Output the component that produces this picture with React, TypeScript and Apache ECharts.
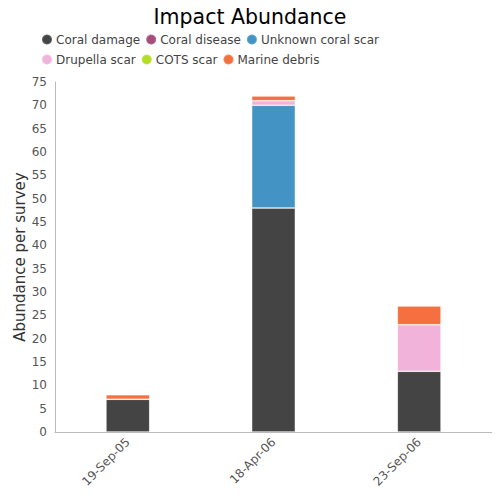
import React, { useEffect, useRef } from "react";
import * as echarts from "echarts";

const categories = ["19-Sep-05", "18-Apr-06", "23-Sep-06"];
const seriesNames = ["Coral damage", "Coral disease", "Unknown coral scar", "Drupella scar", "COTS scar", "Marine debris"];
const coralDamage = [7, 48, 13];
const coralDisease = [0, 0, 0];
const unknownScar = [0, 22, 0];
const drupellaScar = [0, 1, 10];
const cotsScar = [0, 0, 0];
const marineDebris = [1, 1, 4];
const colors = ["#444444", "#a64d79", "#4394c4", "#f1b3d9", "#b5dd26", "#f57040"];

const FONT = "DejaVu Sans";

export default function App() {
  const ref = useRef<HTMLDivElement>(null);
  useEffect(() => {
    const chart = echarts.init(ref.current!, null, { renderer: "svg" });
    const values = [coralDamage, coralDisease, unknownScar, drupellaScar, cotsScar, marineDebris];
    chart.setOption({
      animation: false,
      textStyle: { fontFamily: FONT },
      title: {
        text: "Impact Abundance",
        left: "center",
        top: 1,
        textStyle: { fontFamily: FONT, fontSize: 20.5, fontWeight: "normal", color: "#000" },
      },
      legend: {
        left: 36,
        top: 27,
        width: 365,
        icon: "circle",
        itemWidth: 10,
        itemHeight: 10,
        itemGap: 5,
        textStyle: { fontFamily: FONT, fontSize: 12, color: "#444", padding: [0, 0, 0, -1], lineHeight: 15 },
        data: seriesNames,
      },
      grid: { left: 55, right: 8, top: 82, bottom: 68, containLabel: false },
      xAxis: {
        type: "category",
        data: categories,
        axisLine: { lineStyle: { color: "#bbb" } },
        axisTick: { show: false },
        axisLabel: { rotate: 45, color: "#555", fontSize: 12, fontFamily: FONT, margin: 8 },
      },
      yAxis: {
        type: "value",
        min: 0,
        max: 75,
        interval: 5,
        name: "Abundance per survey",
        nameLocation: "middle",
        nameGap: 28,
        nameMoveOverlap: false,
        nameTextStyle: { fontFamily: FONT, fontSize: 15, color: "#333" },
        axisLine: { show: true, lineStyle: { color: "#bbb" } },
        axisTick: { show: false },
        splitLine: { show: false },
        axisLabel: { color: "#555", fontSize: 12, fontFamily: FONT, margin: 8 },
      },
      series: seriesNames.map((name, i) => ({
        name,
        type: "bar",
        stack: "total",
        barWidth: "30%",
        data: values[i],
        itemStyle: { color: colors[i], borderColor: "rgba(255,255,255,0.15)", borderWidth: 1 },
      })),
    });
    return () => chart.dispose();
  }, []);
  return <div ref={ref} style={{ width: 500, height: 500, margin: -8 }} />;
}
